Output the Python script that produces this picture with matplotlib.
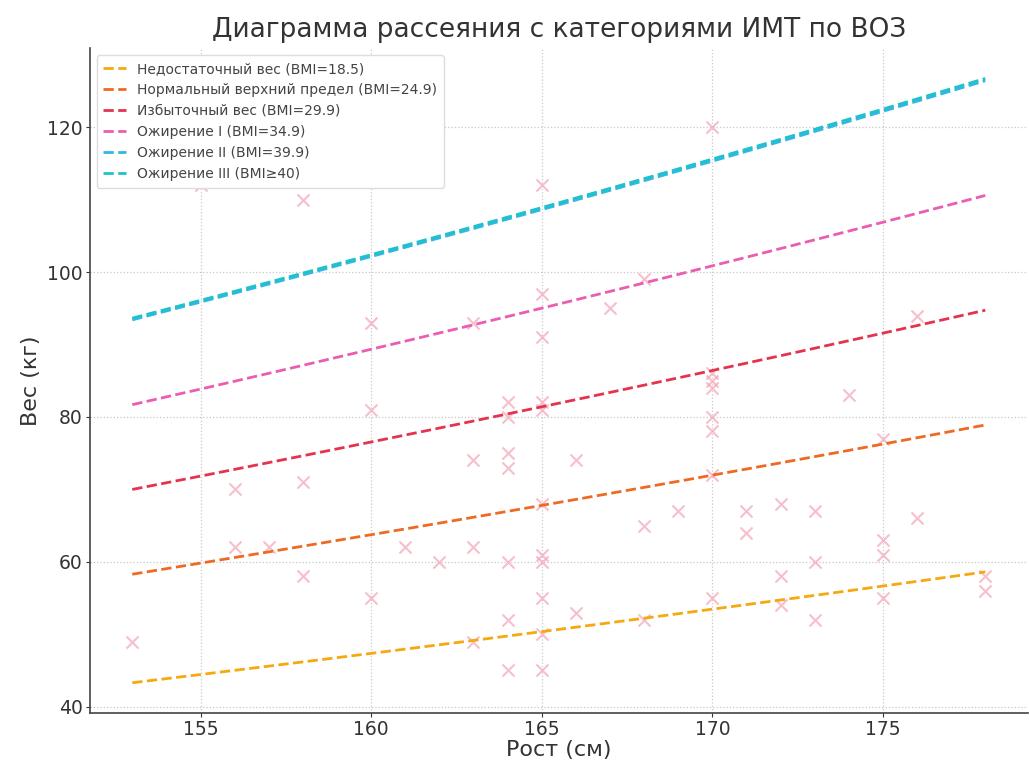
import numpy as np
import matplotlib.pyplot as plt

# Рост (см) и вес (кг) точек
heights = [153, 155, 156, 156, 157, 158, 158, 158, 160, 160, 160, 161, 162,
           163, 163, 163, 163,
           164, 164, 164, 164, 164, 164, 164,
           165, 165, 165, 165, 165, 165, 165, 165, 165, 165, 165,
           166, 166, 167, 168, 168, 168, 169,
           170, 170, 170, 170, 170, 170, 170, 170,
           171, 171, 172, 172, 172, 173, 173, 173, 174,
           175, 175, 175, 175, 176, 176, 178, 178]
weights = [49, 112, 70, 62, 62, 110, 71, 58, 93, 81, 55, 62, 60,
           93, 74, 62, 49,
           82, 80, 75, 73, 60, 52, 45,
           112, 97, 91, 82, 81, 68, 61, 60, 55, 50, 45,
           74, 53, 95, 99, 65, 52, 67,
           120, 86, 85, 84, 80, 78, 72, 55,
           67, 64, 68, 58, 54, 67, 60, 52, 83,
           77, 63, 61, 55, 94, 66, 58, 56]

bmi_values = [18.5, 24.9, 29.9, 34.9, 39.9, 40]
bmi_labels = ["Недостаточный вес (BMI=18.5)",
              "Нормальный верхний предел (BMI=24.9)",
              "Избыточный вес (BMI=29.9)",
              "Ожирение I (BMI=34.9)",
              "Ожирение II (BMI=39.9)",
              "Ожирение III (BMI≥40)"]
bmi_colors = ["#f5a90f", "#ee6a24", "#e4334f", "#ea5db3", "#33b6e6", "#1fc2c8"]

fig, ax = plt.subplots(figsize=(10.3, 7.65), dpi=100)
fig.subplots_adjust(left=0.087, right=0.998, top=0.937, bottom=0.068)

ax.scatter(heights, weights, marker="x", s=75, color="#f3a5b6", alpha=0.7,
           linewidths=1.5, zorder=2)

# линии границ ИМТ: вес = ИМТ * рост^2
h_line = np.unique(heights)
for bmi, label, col in zip(bmi_values, bmi_labels, bmi_colors):
    ax.plot(h_line, bmi * (h_line / 100) ** 2, linestyle="--", linewidth=2,
            color=col, label=label, zorder=3)

ax.set_title("Диаграмма рассеяния с категориями ИМТ по ВОЗ", fontsize=19,
             color="#333333", pad=8)
ax.set_xlabel("Рост (см)", fontsize=16, color="#333333", labelpad=1)
ax.set_ylabel("Вес (кг)", fontsize=16, color="#333333")
ax.tick_params(labelsize=13.5, colors="#333333", length=3, pad=2)

ax.grid(True, linestyle=":", color="#c8c8c8", linewidth=0.9)
ax.set_axisbelow(True)
for side in ["top", "right"]:
    ax.spines[side].set_visible(False)
for side in ["left", "bottom"]:
    ax.spines[side].set_color("#444444")
    ax.spines[side].set_linewidth(1.2)

leg = ax.legend(loc="upper left", fontsize=10, handlelength=1.6,
                framealpha=1, edgecolor="#dddddd", borderpad=0.5, labelspacing=0.5)
for t in leg.get_texts():
    t.set_color("#444444")

fig.savefig("out.png", dpi=100)
